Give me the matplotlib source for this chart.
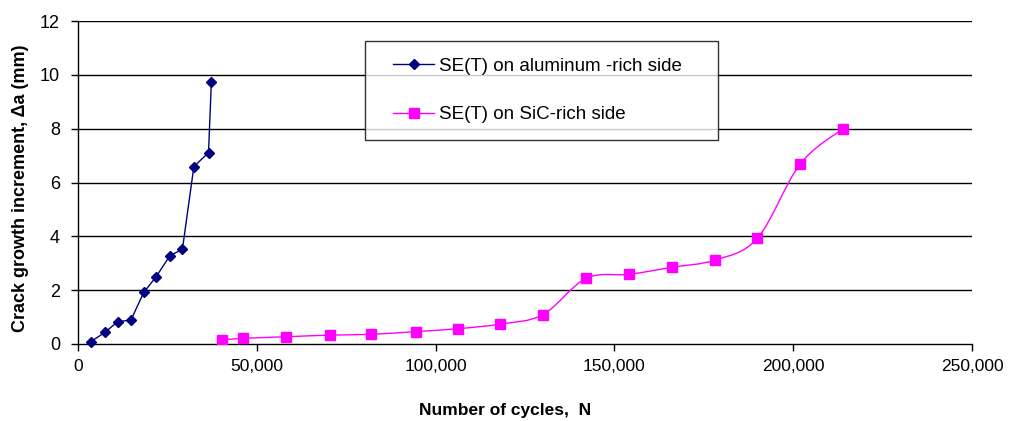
import matplotlib
matplotlib.use("Agg")
import matplotlib.pyplot as plt
from matplotlib.path import Path
from matplotlib.patches import PathPatch
from matplotlib.lines import Line2D
from matplotlib.legend_handler import HandlerLine2D
from matplotlib.ticker import FuncFormatter

plt.rcParams['font.family'] = ['Liberation Sans', 'DejaVu Sans']

# SE(T) on aluminum-rich side
al_cycles = [3600, 7500, 11100, 14800, 18400, 21800, 25700, 29200, 32400, 36500, 37300]
al_da = [0.09, 0.43, 0.83, 0.89, 1.92, 2.49, 3.28, 3.52, 6.59, 7.11, 9.75]

# SE(T) on SiC-rich side
sic_cycles = [40300, 46200, 58300, 70400, 82000, 94400, 106400, 118100, 130000,
              142100, 154200, 166100, 178200, 190000, 201900, 213800]
sic_da = [0.15, 0.21, 0.27, 0.33, 0.36, 0.46, 0.57, 0.74, 1.09,
          2.44, 2.59, 2.85, 3.12, 3.93, 6.68, 7.99]

label_al = "SE(T) on aluminum -rich side"
label_sic = "SE(T) on SiC-rich side"
blue = "#000080"
pink = "#FF00FF"


def smooth_path(xs, ys):
    # Excel-like smoothed line: Catmull-Rom as cubic Bezier segments
    pts = list(zip(xs, ys))
    verts = [pts[0]]
    codes = [Path.MOVETO]
    n = len(pts)
    for i in range(n - 1):
        p0 = pts[i - 1] if i > 0 else pts[i]
        p1 = pts[i]
        p2 = pts[i + 1]
        p3 = pts[i + 2] if i + 2 < n else pts[i + 1]
        c1 = (p1[0] + (p2[0] - p0[0]) / 6, p1[1] + (p2[1] - p0[1]) / 6)
        c2 = (p2[0] - (p3[0] - p1[0]) / 6, p2[1] - (p3[1] - p1[1]) / 6)
        verts += [c1, c2, p2]
        codes += [Path.CURVE4] * 3
    return Path(verts, codes)


fig = plt.figure(figsize=(10.10, 4.21), dpi=100)
ax = fig.add_axes([78 / 1010, 1 - 344 / 421, 894 / 1010, 323 / 421])

ax.set_xlim(0, 250000)
ax.set_ylim(0, 12)
ax.set_xticks(range(0, 250001, 50000))
ax.set_yticks(range(0, 13, 2))
ax.xaxis.set_major_formatter(FuncFormatter(lambda v, p: f"{int(v):,}"))

for y in range(2, 13, 2):
    ax.axhline(y, color="black", lw=1.0, zorder=1)

ax.spines["top"].set_visible(False)
ax.spines["right"].set_visible(False)
for s in ("left", "bottom"):
    ax.spines[s].set_linewidth(1.0)
    ax.spines[s].set_color("black")
ax.tick_params(axis="both", direction="out", length=5, width=1.0)
ax.tick_params(axis="x", pad=6, labelsize=12.5)
ax.tick_params(axis="y", pad=8, labelsize=13)

ax.plot(al_cycles, al_da, color=blue, lw=1.0, marker="D", ms=5.5,
        markeredgecolor=blue, markerfacecolor=blue, zorder=3, clip_on=False)

ax.add_patch(PathPatch(smooth_path(sic_cycles, sic_da), facecolor="none",
                       edgecolor=pink, lw=1.0, zorder=3))
ax.plot(sic_cycles, sic_da, ls="none", marker="s", ms=6.5, color=pink, zorder=4)

handles = [Line2D([], [], color=blue, lw=1.0, marker="D", ms=5.5),
           Line2D([], [], color=pink, lw=1.0, marker="s", ms=6.5)]
leg = ax.legend(handles, [label_al, label_sic], loc="upper left",
                bbox_to_anchor=(365 / 1010, 1 - 41 / 421, 353 / 1010, 0),
                bbox_transform=fig.transFigure, mode="expand",
                fontsize=13.5, frameon=True, fancybox=False, borderpad=0.9,
                labelspacing=1.65, handlelength=2.8, handletextpad=0.25,
                borderaxespad=0,
                handler_map={Line2D: HandlerLine2D(xpad=0.6)})
leg.get_frame().set_edgecolor("black")
leg.get_frame().set_linewidth(1.0)

fig.text(21 / 1010, 1 - 188 / 421, "Crack growth increment, \u0394a (mm)",
         rotation=90, ha="center", va="center", fontsize=13, fontweight="bold")
fig.text(505 / 1010, 1 - 410 / 421, "Number of cycles,  N",
         ha="center", va="center", fontsize=12.5, fontweight="bold")

fig.savefig("out.png", dpi=100)
